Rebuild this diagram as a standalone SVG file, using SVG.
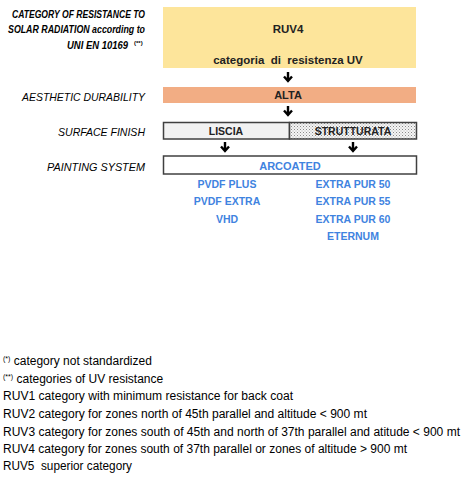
<svg xmlns="http://www.w3.org/2000/svg" width="469" height="493" viewBox="0 0 469 493">
<defs>
<pattern id="dots" width="3" height="3" patternUnits="userSpaceOnUse">
<rect width="3" height="3" fill="#f4f4f4"/>
<rect x="0" y="0" width="1" height="1" fill="#8a8a8a"/>
<rect x="1.5" y="1.5" width="1" height="1" fill="#b0b0b0"/>
</pattern>
<style>
text{font-family:"Liberation Sans",Arial,sans-serif;}
.lab{font-size:11px;font-style:italic;fill:#000;}
.bold{font-weight:bold;}
.c{text-anchor:middle;}
.blue{font-size:10.5px;font-weight:bold;fill:#3f83e0;text-anchor:middle;}
.note{font-size:12px;fill:#000;}
.sup{font-size:7px;}
.box{stroke:#404040;stroke-width:1.5;}
.arr{stroke:#000;stroke-width:2.4;fill:none;}
</style>
</defs>

<g id="labels">
<text class="lab bold" x="12" y="18" textLength="133" lengthAdjust="spacingAndGlyphs">CATEGORY OF RESISTANCE TO</text>
<text class="lab bold" x="8" y="33" textLength="137" lengthAdjust="spacingAndGlyphs">SOLAR RADIATION according to</text>
<text class="lab bold" x="67" y="49" textLength="61" lengthAdjust="spacingAndGlyphs">UNI EN 10169</text>
<text x="134" y="45" font-size="6px" font-weight="bold">(**)</text>
<text class="lab" x="22" y="101" textLength="123" lengthAdjust="spacingAndGlyphs">AESTHETIC DURABILITY</text>
<text class="lab" x="58" y="136" textLength="87" lengthAdjust="spacingAndGlyphs">SURFACE FINISH</text>
<text class="lab" x="47" y="171" textLength="98" lengthAdjust="spacingAndGlyphs">PAINTING SYSTEM</text>
</g>

<g id="ruv4">
<rect x="163" y="7" width="253" height="61" fill="#fde59b"/>
<text class="c bold" x="288" y="33" font-size="11.5px" fill="#222">RUV4</text>
<text class="c" x="288" y="64" font-size="11.5px" fill="#222" font-weight="bold" xml:space="preserve">categoria  di  resistenza UV</text>
</g>

<g id="alta">
<rect x="163" y="87" width="253" height="16" fill="#f2ad84"/>
<text class="c bold" x="288" y="99" font-size="11px" fill="#222">ALTA</text>
</g>

<g id="liscia">
<rect class="box" x="163.5" y="122.5" width="126" height="16.5" fill="#f2f2f2"/>
<text class="c bold" x="226" y="135" font-size="10.5px" fill="#222">LISCIA</text>
</g>

<g id="strutturata">
<rect class="box" x="289.5" y="122.5" width="127" height="16.5" fill="url(#dots)"/>
<text class="c bold" x="353" y="135" font-size="10.5px" fill="#222">STRUTTURATA</text>
</g>

<g id="arcoated">
<rect class="box" x="163.5" y="156" width="253" height="18" fill="#ffffff"/>
<text class="c bold" x="290" y="169.5" font-size="11px" fill="#3f83e0">ARCOATED</text>
</g>

<g id="products-left">
<text class="blue" x="227" y="188">PVDF PLUS</text>
<text class="blue" x="227" y="205">PVDF EXTRA</text>
<text class="blue" x="227" y="223">VHD</text>
</g>

<g id="products-right">
<text class="blue" x="353" y="188">EXTRA PUR 50</text>
<text class="blue" x="353" y="205">EXTRA PUR 55</text>
<text class="blue" x="353" y="223">EXTRA PUR 60</text>
<text class="blue" x="353" y="240">ETERNUM</text>
</g>

<g id="connectors">
<path class="arr" d="M288 72 V81 M284 76.5 L288 81 L292 76.5"/>
<path class="arr" d="M288 106 V115 M284 110.5 L288 115 L292 110.5"/>
<path class="arr" d="M225 142 V151 M221 146.5 L225 151 L229 146.5"/>
<path class="arr" d="M353 142 V151 M349 146.5 L353 151 L357 146.5"/>
</g>

<g id="notes">
<text class="note" x="3" y="365"><tspan class="sup" dy="-4">(*)</tspan><tspan dy="4"> category not standardized</tspan></text>
<text class="note" x="3" y="383"><tspan class="sup" dy="-4">(**)</tspan><tspan dy="4"> categories of UV resistance</tspan></text>
<text class="note" x="3" y="400" textLength="290" lengthAdjust="spacingAndGlyphs">RUV1 category with minimum resistance for back coat</text>
<text class="note" x="3" y="418" textLength="364" lengthAdjust="spacingAndGlyphs">RUV2 category for zones north of 45th parallel and altitude &lt; 900 mt</text>
<text class="note" x="3" y="436" textLength="457" lengthAdjust="spacingAndGlyphs">RUV3 category for zones south of 45th and north of 37th parallel and atitude &lt; 900 mt</text>
<text class="note" x="3" y="453" textLength="404" lengthAdjust="spacingAndGlyphs">RUV4 category for zones south of 37th parallel or zones of altitude &gt; 900 mt</text>
<text class="note" x="3" y="470" textLength="129" lengthAdjust="spacingAndGlyphs" xml:space="preserve">RUV5  superior category</text>
</g>
</svg>
